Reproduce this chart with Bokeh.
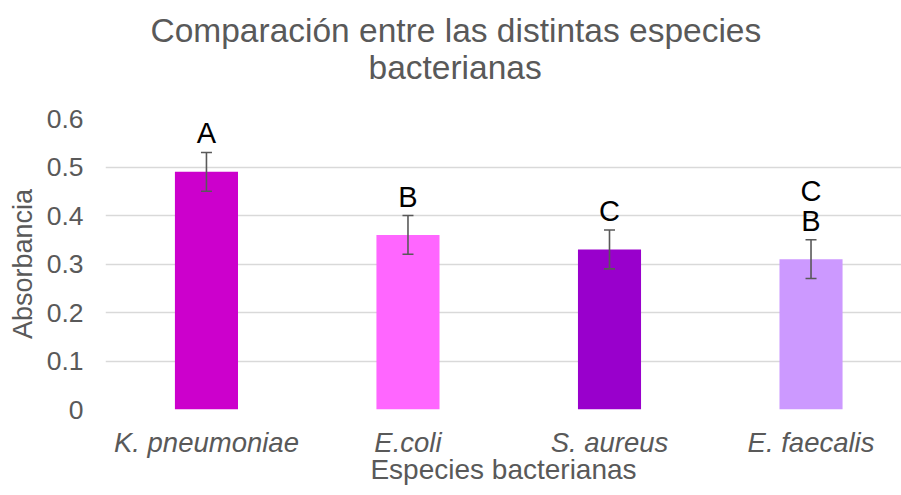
from bokeh.plotting import figure
from bokeh.models import (ColumnDataSource, Range1d, FixedTicker, NumeralTickFormatter,
                          Whisker, TeeHead, Title)
from bokeh.core.properties import value
from bokeh.embed import file_html
from bokeh.resources import INLINE

# ---- data ----
species = ["K. pneumoniae", "E.coli", "S. aureus", "E. faecalis"]
absorbance = [0.49, 0.36, 0.33, 0.31]
errors = [0.04, 0.04, 0.04, 0.04]
colors = ["#CC00CC", "#FF66FF", "#9900CC", "#CC99FF"]
letters = [["A"], ["B"], ["C"], ["B", "C"]]  # bottom to top
y_ticks = [0, 0.1, 0.2, 0.3, 0.4, 0.5, 0.6]
title_lines = ["Comparación entre las distintas especies", "bacterianas"]

FONT = "Liberation Sans"
GREY = "#595959"

xs = list(range(len(species)))
src = ColumnDataSource(dict(
    x=xs, top=absorbance, color=colors,
    upper=[a + e for a, e in zip(absorbance, errors)],
    lower=[a - e for a, e in zip(absorbance, errors)],
))

lx, ly, lt, loff = [], [], [], []
for i, (a, e, ls) in enumerate(zip(absorbance, errors, letters)):
    for k, t in enumerate(ls):
        lx.append(i)
        ly.append(a + e)
        lt.append(t)
        loff.append(-19 - 30 * k)
lsrc = ColumnDataSource(dict(x=lx, y=ly, text=lt, yoff=loff))

p = figure(width=901, height=495, output_backend="svg", toolbar_location=None,
           x_range=Range1d(-0.501, 3.449), y_range=Range1d(0, 0.6),
           min_border_left=105, min_border_right=0, min_border_top=118,
           min_border_bottom=86)
p.title.visible = False
p.outline_line_color = None
p.background_fill_color = "white"
p.border_fill_color = "white"

# title: two lines, bottom line added first (closest to the plot area)
t2 = Title(text=title_lines[1], align="left", offset=263, standoff=65,
           text_font=FONT, text_font_size="33.5px", text_color=GREY, text_font_style="normal")
t1 = Title(text=title_lines[0], align="left", offset=45, standoff=-69,
           text_font=FONT, text_font_size="33.5px", text_color=GREY, text_font_style="normal")
p.add_layout(t2, "above")
p.add_layout(t1, "above")

p.vbar(x="x", top="top", bottom=0, width=0.313, fill_color="color", line_color=None, source=src)

whisk = Whisker(base="x", upper="upper", lower="lower", source=src, dimension="height",
                line_color=GREY, line_width=1.6, level="overlay",
                upper_head=TeeHead(size=11, line_color=GREY, line_width=1.6),
                lower_head=TeeHead(size=11, line_color=GREY, line_width=1.6))
p.add_layout(whisk)

p.text(x="x", y="y", text="text", y_offset="yoff", source=lsrc,
       text_align="center", text_baseline="middle",
       text_font=value(FONT), text_font_size="29px", text_color="black")

# axes
p.yaxis.ticker = FixedTicker(ticks=y_ticks)
p.yaxis.formatter = NumeralTickFormatter(format="0.[0]")
p.yaxis.axis_label = "Absorbancia"
p.xaxis.ticker = FixedTicker(ticks=xs)
p.xaxis.major_label_overrides = {i: s for i, s in enumerate(species)}
p.xaxis.axis_label = "Especies bacterianas"

for ax in (p.xaxis, p.yaxis):
    ax.axis_line_color = None
    ax.major_tick_line_color = None
    ax.minor_tick_line_color = None
    ax.major_tick_in = 0
    ax.major_tick_out = 0
    ax.major_label_text_font = FONT
    ax.major_label_text_color = GREY
    ax.axis_label_text_font = FONT
    ax.axis_label_text_color = GREY
    ax.axis_label_text_font_style = "normal"

p.yaxis.major_label_text_font_size = "26.5px"
p.yaxis.axis_label_text_font_size = "27px"
p.xaxis.major_label_text_font_size = "27.5px"
p.xaxis.axis_label_text_font_size = "28px"
p.xaxis.major_label_text_font_style = "italic"
p.yaxis.major_label_standoff = 22
p.yaxis.axis_label_standoff = 6
p.xaxis.major_label_standoff = 17
p.xaxis.axis_label_standoff = -7

p.xgrid.visible = False
p.ygrid.ticker = FixedTicker(ticks=y_ticks)
p.ygrid.grid_line_color = "#d9d9d9"
p.ygrid.grid_line_width = 1.5

open("out.html", "w").write(file_html(p, INLINE))
